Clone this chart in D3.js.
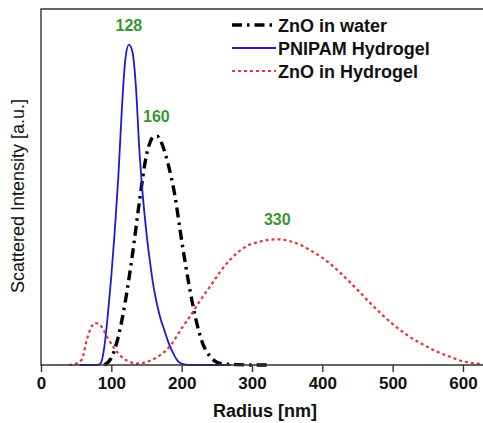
<!DOCTYPE html>
<html>
<head>
<meta charset="utf-8">
<script src="https://cdn.jsdelivr.net/npm/d3@7"></script>
<style>
  html, body { margin: 0; padding: 0; background: #fff; }
  svg { display: block; font-family: Arial, "Liberation Sans", sans-serif; }
</style>
</head>
<body>
<div id="chart"></div>
<script>
// radius [nm] and scattered intensity (a.u., 0..1 of frame height)
const waterX = [90, 100, 110, 120, 130, 140, 150, 155, 160, 165, 170, 180, 190, 200, 210, 220, 230, 240, 250, 260, 280, 300, 325];
const waterY = [0, 0.02, 0.08, 0.18, 0.31, 0.46, 0.59, 0.625, 0.642, 0.643, 0.63, 0.57, 0.48, 0.35, 0.23, 0.13, 0.06, 0.025, 0.008, 0.003, 0.001, 0, 0];

const hydrogelX = [55, 80, 85, 90, 95, 100, 105, 110, 115, 120, 125, 130, 135, 140, 145, 150, 155, 160, 165, 170, 175, 180, 185, 190, 195, 200, 210, 230, 270];
const hydrogelY = [0, 0, 0.005, 0.05, 0.14, 0.25, 0.38, 0.53, 0.72, 0.86, 0.90, 0.88, 0.78, 0.60, 0.47, 0.37, 0.29, 0.22, 0.17, 0.13, 0.10, 0.07, 0.045, 0.025, 0.01, 0.004, 0, 0, 0];

const znoGelX = [40, 50, 58, 65, 70, 77, 85, 95, 105, 115, 125, 135, 145, 155, 165, 175, 185, 199, 213, 227, 242, 256, 270, 284, 298, 312, 325, 338, 352, 369, 383, 398, 412, 426, 440, 455, 469, 483, 497, 511, 525, 540, 554, 568, 583, 597, 611, 625, 640];
const znoGelY = [0, 0.004, 0.015, 0.07, 0.1, 0.118, 0.11, 0.075, 0.045, 0.022, 0.01, 0.004, 0.006, 0.012, 0.022, 0.036, 0.057, 0.1, 0.14, 0.183, 0.225, 0.265, 0.298, 0.323, 0.339, 0.347, 0.352, 0.353, 0.349, 0.337, 0.322, 0.304, 0.283, 0.258, 0.231, 0.201, 0.172, 0.145, 0.12, 0.098, 0.078, 0.061, 0.046, 0.033, 0.022, 0.012, 0.006, 0.003, 0];

const seriesNames = ['ZnO in water', 'PNIPAM Hydrogel', 'ZnO in Hydrogel'];
const xTicks = [0, 100, 200, 300, 400, 500, 600];

const peakText = ['128', '160', '330'];
const peakX = [125, 164, 336];
const peakY = [0.90, 0.643, 0.353];

const width = 483, height = 423;
const margin = { top: 9, right: -6, bottom: 58, left: 41 };

const svg = d3.select('#chart')
  .append('svg')
  .attr('width', width)
  .attr('height', height);

const x = d3.scaleLinear()
  .domain([0, 637])
  .range([margin.left, width - margin.right]);

const y = d3.scaleLinear()
  .domain([0, 1])
  .range([height - margin.bottom, margin.top]);

svg.append('defs')
  .append('clipPath')
  .attr('id', 'plot-clip')
  .append('rect')
  .attr('x', x(0))
  .attr('y', y(1))
  .attr('width', x(637) - x(0))
  .attr('height', y(0) - y(1) + 2);

const line = d3.line()
  .x(d => x(d[0]))
  .y(d => y(d[1]))
  .curve(d3.curveMonotoneX);

const series = [
  { name: seriesNames[0], pts: d3.zip(waterX, waterY), stroke: '#000', width: 3.4, dash: '10,5,2.5,5' },
  { name: seriesNames[1], pts: d3.zip(hydrogelX, hydrogelY), stroke: '#1a1ad8', width: 1.8, dash: null },
  { name: seriesNames[2], pts: d3.zip(znoGelX, znoGelY), stroke: '#e5323c', width: 2.2, dash: '3,3' },
];

const plot = svg.append('g').attr('clip-path', 'url(#plot-clip)');

// curves under the frame
plot.selectAll('path.curve')
  .data(series)
  .enter()
  .append('path')
  .attr('class', 'curve')
  .attr('fill', 'none')
  .attr('stroke', d => d.stroke)
  .attr('stroke-width', d => d.width)
  .attr('stroke-dasharray', d => d.dash)
  .attr('d', d => line(d.pts));

// frame
svg.append('path')
  .attr('fill', 'none')
  .attr('stroke', '#333')
  .attr('stroke-width', 1.4)
  .attr('d', 'M' + x(637) + ',' + y(1) + 'H' + x(0) + 'V' + y(0) + 'H' + x(637));

const xAxis = svg.append('g')
  .attr('transform', 'translate(0,' + y(0) + ')')
  .call(d3.axisBottom(x).tickValues(xTicks).tickSize(7).tickPadding(5));

xAxis.select('.domain').remove();
xAxis.selectAll('.tick line').attr('stroke', '#333').attr('stroke-width', 1.4);
xAxis.selectAll('.tick text')
  .attr('fill', '#111')
  .style('font-size', '17px')
  .style('font-weight', 'bold')
  .style('font-family', 'Arial, "Liberation Sans", sans-serif');

svg.append('text')
  .attr('x', 265)
  .attr('y', 417)
  .attr('text-anchor', 'middle')
  .attr('fill', '#111')
  .style('font-size', '18px')
  .style('font-weight', 'bold')
  .text('Radius [nm]');

svg.append('text')
  .attr('transform', 'translate(24,196) rotate(-90)')
  .attr('text-anchor', 'middle')
  .attr('fill', '#111')
  .style('font-size', '18px')
  .text('Scattered Intensity [a.u.]');

// peak labels
svg.selectAll('text.peak')
  .data(peakText)
  .enter()
  .append('text')
  .attr('class', 'peak')
  .attr('x', (d, i) => x(peakX[i]))
  .attr('y', (d, i) => y(peakY[i]) - 14)
  .attr('text-anchor', 'middle')
  .attr('fill', '#3a9433')
  .style('font-size', '16px')
  .style('font-weight', 'bold')
  .text(d => d);

// legend
const legend = svg.selectAll('g.legend')
  .data(series)
  .enter()
  .append('g')
  .attr('class', 'legend')
  .attr('transform', (d, i) => 'translate(0,' + (25 + i * 23) + ')');

legend.append('line')
  .attr('x1', 232)
  .attr('x2', 276)
  .attr('stroke', d => d.stroke)
  .attr('stroke-width', d => d.width)
  .attr('stroke-dasharray', d => d.dash);

legend.append('text')
  .attr('x', 278)
  .attr('y', 6.5)
  .attr('fill', '#111')
  .style('font-size', '18px')
  .style('font-weight', 'bold')
  .text(d => d.name);
</script>
</body>
</html>
